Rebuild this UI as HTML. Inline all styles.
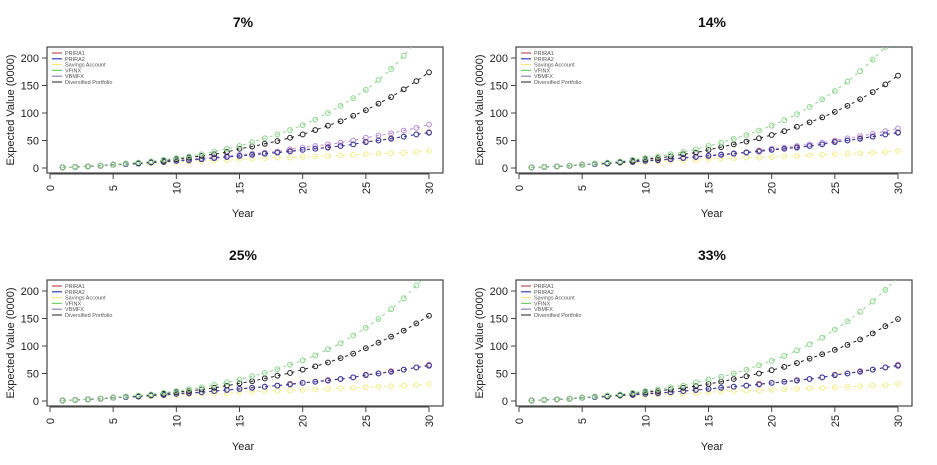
<!DOCTYPE html>
<html><head><meta charset="utf-8"><style>
html,body{margin:0;padding:0;background:#fff;width:937px;height:465px;overflow:hidden}
svg{display:block;font-family:"Liberation Sans",Arial,sans-serif}
</style></head><body>
<svg id="c" width="937" height="465"></svg>
<script>
const years=[1,2,3,4,5,6,7,8,9,10,11,12,13,14,15,16,17,18,19,20,21,22,23,24,25,26,27,28,29,30];
const panelTitles=["7%","14%","25%","33%"];
const seriesNames=["PRIRA1","PRIRA2","Savings Account","VFINX","VBMFX","Diversified Portfolio"];
const yTicks=[0,50,100,150,200];
const xTicks=[0,5,10,15,20,25,30];
const prira1=[1,2,3,4,6,7,8,10,11,13,15,16,18,20,22,24,26,28,31,33,35,38,40,43,48,50,54,57,61,65];
const prira2=[1,2,3,4,6,7,8,10,11,13,14,16,18,20,22,24,26,28,30,33,35,37,40,43,47,50,53,57,61,64];
const savings=[1,2,3,4,6,7,8,9,10,11,12,13,14,14,16,17,18,19,19,20,21,22,23,24,25,26,27,28,29,31];
const vfinx7=[1,2,3,4,6,8,10,12,15,18,21,25,30,35,40,47,54,61,69,78,88,100,113,127,142,160,180,204,230,260];
const vfinx14=[1,2,3,4,6,8,10,12,15,18,21,25,29,34,40,46,53,60,68,77,87,98,111,125,140,157,176,197,220,245];
const vfinx25=[1,2,3,4,6,8,10,12,15,18,21,25,29,34,39,45,51,58,66,74,83,94,105,119,133,149,167,187,210,234];
const vfinx33=[1,2,3,4,6,8,10,12,15,18,21,25,28,34,39,44,50,57,65,73,82,92,103,115,130,145,162,181,202,225];
const div7=[1,2,3,4,6,8,9,11,13,16,19,22,25,29,35,39,44,49,55,61,69,77,85,95,105,117,129,143,158,174];
const div14=[1,2,3,4,6,8,9,11,13,16,18,21,25,28,33,38,43,48,54,60,67,75,83,92,102,113,125,138,152,168];
const div25=[1,2,3,4,6,8,9,11,13,16,18,21,24,28,32,36,41,46,51,57,63,70,78,86,96,106,117,128,141,155];
const div33=[1,2,3,4,6,8,9,11,13,16,18,21,24,27,31,35,40,45,50,56,62,69,77,85,93,102,112,123,136,149];
const vbmfx7=[1,2,3,4,6,7,9,10,12,14,16,18,20,22,24,26,28,30,34,37,40,43,46,50,55,59,63,68,73,79];
const vbmfx14=[1,2,3,4,6,7,9,10,12,14,15,17,19,21,23,25,27,29,32,35,37,40,43,46,50,54,58,62,67,72];
const vbmfx25=[1,2,3,4,6,7,8,10,11,13,15,16,18,20,22,24,26,28,31,33,35,38,40,43,47,50,54,57,61,66];
const vbmfx33=[1,2,3,4,6,7,8,10,11,13,15,16,18,20,22,24,26,28,31,33,35,38,40,43,47,50,54,57,61,66];
const vfinxByPanel=[vfinx7,vfinx14,vfinx25,vfinx33];
const divByPanel=[div7,div14,div25,div33];
const vbmfxByPanel=[vbmfx7,vbmfx14,vbmfx25,vbmfx33];

const NS="http://www.w3.org/2000/svg";
const svg=document.getElementById('c');
function mk(tag,attrs,parent){const e=document.createElementNS(NS,tag);for(const k in attrs)e.setAttribute(k,attrs[k]);(parent||svg).appendChild(e);return e;}
const colors=["#c0504d","#3040b0","#f2ee8a","#8ad88a","#b88ad8","#222222"];
const legendColors=["#c05050","#3040c0","#f5ec80","#70d070","#9080c0","#444444"];
const offsets=[[0,0],[469,0],[0,233],[469,233]];
offsets.forEach((o,p)=>{
  const ox=o[0],oy=o[1];
  const g=mk('g',{});
  
  
  const xs=v=>ox+50+v*(379/30);
  const ys=v=>oy+168-v*(110/200);
  const t=mk('text',{x:ox+243,y:oy+27,'text-anchor':'middle','font-size':'14','font-weight':'bold',fill:'#111'},g);
  t.textContent=panelTitles[p];
  
  
  const cid='clip'+p;
  const cp=mk('clipPath',{id:cid},g);
  mk('rect',{x:ox+47,y:oy+47,width:396,height:126},cp);
  const box=mk('rect',{x:ox+47,y:oy+47,width:396,height:126,fill:'none',stroke:'#444','stroke-width':'1.2'},g);
  
  
  // y axis
  mk('line',{x1:ox+47,x2:ox+47,y1:ys(0),y2:ys(200),stroke:'#444'},g);
  yTicks.forEach(v=>{
    mk('line',{x1:ox+42,x2:ox+47,y1:ys(v),y2:ys(v),stroke:'#444'},g);
    const l=mk('text',{x:ox+39,y:ys(v)+4,'text-anchor':'end','font-size':'11',fill:'#222'},g);
    l.textContent=v;
    
    
  });
  // x axis
  mk('line',{x1:xs(0),x2:xs(30),y1:oy+174,y2:oy+174,stroke:'#444'},g);
  xTicks.forEach(v=>{
    mk('line',{x1:xs(v),x2:xs(v),y1:oy+174,y2:oy+179,stroke:'#444'},g);
    const l=mk('text',{x:0,y:0,'text-anchor':'middle','font-size':'11',fill:'#222',transform:`translate(${xs(v)+4},${oy+188}) rotate(-90)`},g);
    l.textContent=v;
    
    
  });
  const xt=mk('text',{x:ox+243,y:oy+217,'text-anchor':'middle','font-size':'11',fill:'#222'},g);
  xt.textContent='Year';
  
  
  const yt=mk('text',{x:0,y:0,'text-anchor':'middle','font-size':'11',fill:'#222',transform:`translate(${ox+14},${oy+110}) rotate(-90)`},g);
  yt.textContent='Expected Value (0000)';
  
  
  // series
  const data=[savings,vbmfxByPanel[p],prira1,prira2,divByPanel[p],vfinxByPanel[p]];
  const cols=[colors[2],colors[4],colors[0],colors[1],colors[5],colors[3]];
  const names=["savings","vbmfx","prira1","prira2","diversified","vfinx"];
  const pg=mk('g',{'clip-path':`url(#${cid})`},g);
  data.forEach((arr,si)=>{
    const sg=mk('g',{},pg);
    
    
    const pts=arr.map((v,i)=>xs(years[i])+','+ys(v)).join(' ');
    mk('polyline',{points:pts,fill:'none',stroke:cols[si],'stroke-width':'1','stroke-dasharray':'3,4'},sg);
    arr.forEach((v,i)=>{
      const c=mk('circle',{cx:xs(years[i]),cy:ys(v),r:2.4,fill:'none',stroke:cols[si],'stroke-width':'1'},sg);
      
      
    });
  });
  // legend
  const lg=mk('g',{},g);
  
  
  seriesNames.forEach((n,i)=>{
    const y=oy+53+i*5.8;
    mk('line',{x1:ox+52,x2:ox+62,y1:y,y2:y,stroke:legendColors[i],'stroke-width':'1.2'},lg);
    const tx=mk('text',{x:ox+65,y:y+2,'font-size':'5.5',fill:'#555'},lg);
    tx.textContent=n;
    
    
  });
});
</script>
</body></html>
